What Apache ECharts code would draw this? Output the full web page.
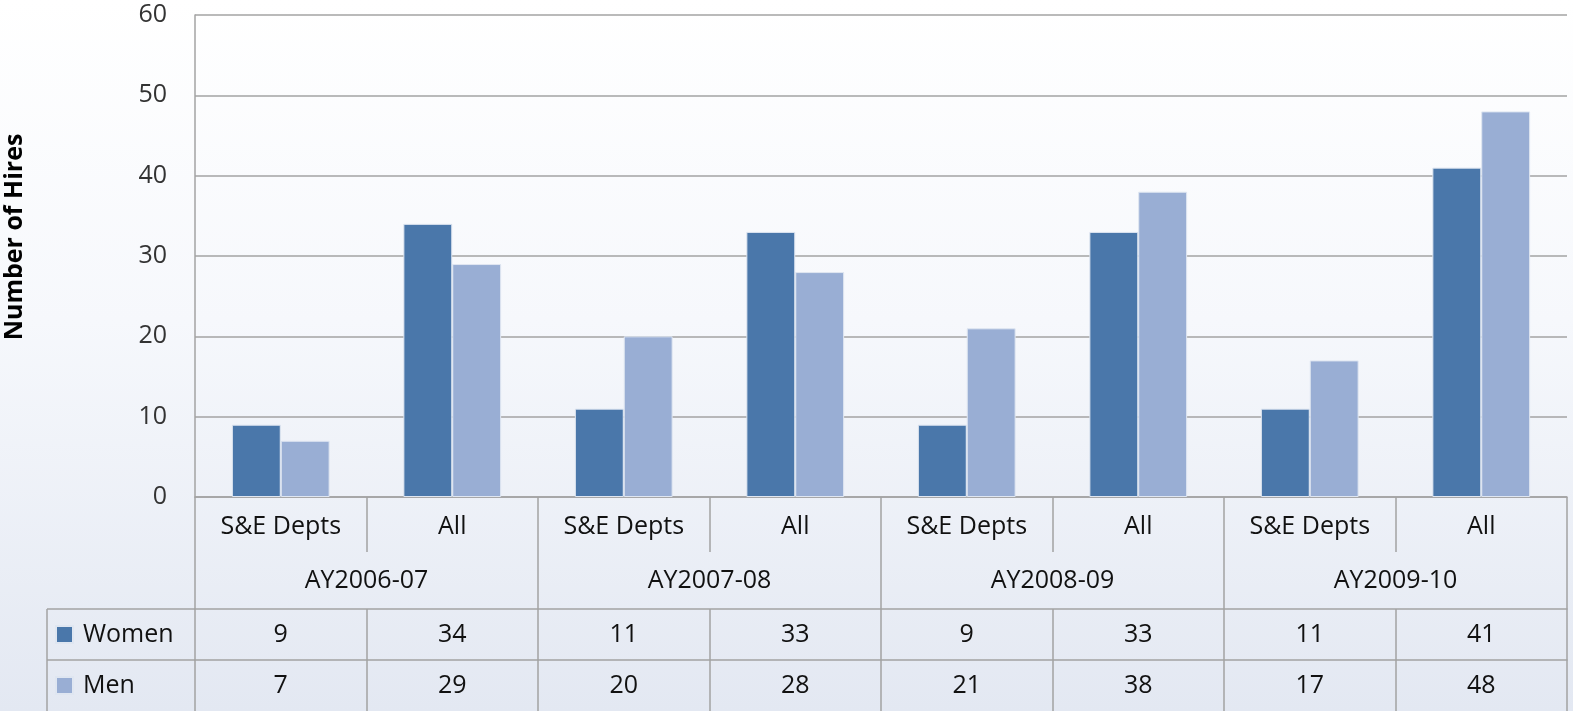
<!DOCTYPE html>
<html>
<head>
<meta charset="utf-8">
<script src="https://cdn.jsdelivr.net/npm/echarts@6/dist/echarts.min.js"></script>
<style>
  html, body { margin: 0; padding: 0; }
  #chart { width: 1573px; height: 711px; }
</style>
</head>
<body>
<div id="chart"></div>
<script>
// data
const subLabels = ['S&E Depts', 'All', 'S&E Depts', 'All', 'S&E Depts', 'All', 'S&E Depts', 'All'];
const groupLabels = ['AY2006-07', 'AY2007-08', 'AY2008-09', 'AY2009-10'];
const women = [9, 34, 11, 33, 9, 33, 11, 41];
const men = [7, 29, 20, 28, 21, 38, 17, 48];

const font = '"Open Sans", "Noto Sans", sans-serif';
const lineCol = '#a3a3a3';
const womenCol = '#4a77aa';
const menCol = '#99aed4';

const chart = echarts.init(document.getElementById('chart'));

// one table row drawn as an extra category axis under the grid
const tableAxis = (data, offset, tickLen, margin, showLine, fmt) => ({
  type: 'category',
  position: 'bottom',
  data: data,
  offset: offset,
  axisLine: { show: showLine, lineStyle: { color: lineCol, width: 1.5 } },
  axisTick: { show: true, length: tickLen, interval: 0, lineStyle: { color: lineCol, width: 1.5 } },
  axisLabel: {
    interval: 0,
    margin: margin,
    verticalAlign: 'middle',
    color: '#111',
    fontFamily: font,
    fontSize: 25,
    formatter: fmt
  }
});

chart.setOption({
  backgroundColor: {
    type: 'linear', x: 0, y: 0, x2: 0, y2: 1,
    colorStops: [
      { offset: 0, color: '#ffffff' },
      { offset: 0.45, color: '#f6f8fc' },
      { offset: 1, color: '#e3e8f2' }
    ]
  },
  animation: false,
  grid: { left: 195, right: 6, top: 15, bottom: 214 },
  legend: {
    data: ['Women', 'Men'],
    orient: 'vertical',
    left: 55,
    top: 622,
    padding: 0,
    itemWidth: 17,
    itemHeight: 17,
    itemGap: 26,
    icon: 'rect',
    textStyle: { fontFamily: font, fontSize: 25, color: '#111', lineHeight: 25, padding: [0, 0, 0, 5] }
  },
  xAxis: [
    tableAxis(subLabels, 0, 55, 30, true),
    tableAxis(groupLabels, 55, 57, 29, false),
    tableAxis(subLabels, 112, 51, 26, true, (v, i) => String(women[i])),
    tableAxis(subLabels, 163, 52, 26, true, (v, i) => String(men[i]))
  ],
  yAxis: {
    type: 'value',
    min: 0,
    max: 60,
    interval: 10,
    axisLine: { show: true, lineStyle: { color: lineCol, width: 1.5 } },
    axisTick: { show: false },
    splitLine: { lineStyle: { color: lineCol, width: 1.5 } },
    axisLabel: { margin: 28, color: '#333', fontFamily: font, fontSize: 25 }
  },
  graphic: [
    {
      type: 'text',
      x: 15, y: 237,
      rotation: Math.PI / 2,
      style: {
        text: 'Number of Hires',
        fontFamily: font,
        fontSize: 25,
        fontWeight: 'bold',
        fill: '#000',
        align: 'center',
        verticalAlign: 'middle'
      }
    },
    { type: 'line', shape: { x1: 47, y1: 609, x2: 195, y2: 609 }, style: { stroke: lineCol, lineWidth: 1.5 } },
    { type: 'line', shape: { x1: 47, y1: 660, x2: 195, y2: 660 }, style: { stroke: lineCol, lineWidth: 1.5 } },
    { type: 'line', shape: { x1: 47, y1: 609, x2: 47, y2: 711 }, style: { stroke: lineCol, lineWidth: 1.5 } }
  ],
  series: [
    {
      name: 'Women',
      type: 'bar',
      data: women,
      barGap: 0,
      barCategoryGap: '43%',
      itemStyle: { color: womenCol, borderColor: '#dfe6f1', borderWidth: 1 }
    },
    {
      name: 'Men',
      type: 'bar',
      data: men,
      itemStyle: { color: menCol, borderColor: '#dfe6f1', borderWidth: 1 }
    }
  ]
});
</script>
</body>
</html>
